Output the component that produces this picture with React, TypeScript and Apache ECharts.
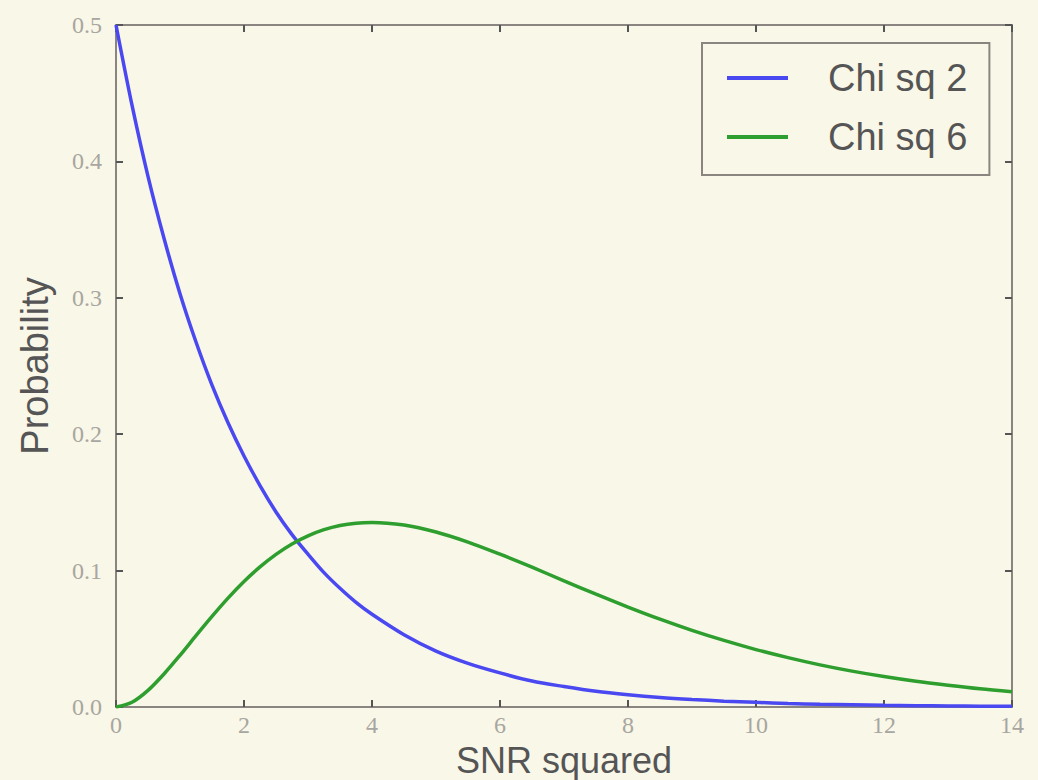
import React, { useEffect, useRef } from "react";
import * as echarts from "echarts";

const xValues = [0, 0.25, 0.5, 0.75, 1, 1.25, 1.5, 1.75, 2, 2.25, 2.5, 2.75, 3, 3.25, 3.5, 3.75, 4, 4.5, 5, 5.5, 6, 6.5, 7, 7.5, 8, 8.5, 9, 9.5, 10, 10.5, 11, 11.5, 12, 12.5, 13, 13.5, 14];
const chiSq2 = [0.5, 0.4412, 0.389, 0.3436, 0.303, 0.2676, 0.236, 0.2084, 0.184, 0.1623, 0.143, 0.1264, 0.112, 0.0985, 0.087, 0.0767, 0.068, 0.053, 0.041, 0.032, 0.025, 0.019, 0.015, 0.0115, 0.009, 0.007, 0.0055, 0.0043, 0.0034, 0.0026, 0.002, 0.0016, 0.0012, 0.001, 0.0008, 0.0006, 0.0005];
const chiSq6 = [0, 0.0035, 0.0122, 0.0242, 0.0379, 0.0523, 0.0664, 0.0798, 0.092, 0.1027, 0.1119, 0.1195, 0.1255, 0.13, 0.1331, 0.1348, 0.1353, 0.1334, 0.1283, 0.1209, 0.112, 0.1025, 0.0925, 0.0827, 0.0733, 0.0644, 0.0562, 0.0488, 0.0421, 0.0362, 0.0309, 0.0263, 0.0223, 0.0188, 0.0159, 0.0133, 0.0112];
const seriesNames = ["Chi sq 2", "Chi sq 6"];
const xTitle = "SNR squared";
const yTitle = "Probability";

export default function App() {
  const ref = useRef<HTMLDivElement>(null);
  useEffect(() => {
    if (!ref.current) return;
    const chart = echarts.init(ref.current, null, { renderer: "svg" });
    const tickLabel = () => ({ fontFamily: "Liberation Serif", fontSize: 24, color: "#a8a6a0" });
    const axisLine = () => ({ show: true, onZero: false, lineStyle: { color: "#8a8580", width: 2 } });
    const axisTick = () => ({ show: true, inside: true, length: 7, lineStyle: { color: "#555", width: 2 } });
    chart.setOption({
      animation: false,
      backgroundColor: "#f9f7e8",
      grid: { left: 116, top: 25, right: 26, bottom: 73, outerBoundsMode: "none", containLabel: false },
      legend: {
        orient: "vertical",
        left: 702,
        top: 43,
        backgroundColor: "#f9f7e8",
        borderColor: "#8a8580",
        borderWidth: 2,
        padding: [15, 22, 18, 25],
        itemGap: 19,
        itemWidth: 61,
        itemHeight: 4,
        icon: "rect",
        textStyle: { fontFamily: "Liberation Sans", fontSize: 38, color: "#555", lineHeight: 40, padding: [0, 0, 0, 35] },
        data: seriesNames,
      },
      xAxis: [
        {
          type: "value", min: 0, max: 14, interval: 2,
          axisLine: axisLine(), axisTick: axisTick(), splitLine: { show: false },
          axisLabel: { ...tickLabel(), margin: 6 },
          name: xTitle, nameLocation: "middle", nameGap: 28,
          nameTextStyle: { fontFamily: "Liberation Sans", fontSize: 36, color: "#555", lineHeight: 38 },
        },
        {
          type: "value", min: 0, max: 14, interval: 2, position: "top",
          axisLine: axisLine(), axisTick: axisTick(), splitLine: { show: false }, axisLabel: { show: false },
        },
      ],
      yAxis: [
        {
          type: "value", min: 0, max: 0.5, interval: 0.1,
          axisLine: axisLine(), axisTick: axisTick(), splitLine: { show: false },
          axisLabel: { ...tickLabel(), margin: 14, formatter: (v: number) => v.toFixed(1) },
          name: yTitle, nameLocation: "middle", nameGap: 62, nameRotate: 90,
          nameTextStyle: { fontFamily: "Liberation Sans", fontSize: 38, color: "#555" },
        },
        {
          type: "value", min: 0, max: 0.5, interval: 0.1, position: "right",
          axisLine: axisLine(), axisTick: axisTick(), splitLine: { show: false }, axisLabel: { show: false },
        },
      ],
      series: [
        {
          name: seriesNames[0], type: "line", smooth: 0.3, symbol: "none",
          lineStyle: { color: "#4a48f0", width: 3.5 }, itemStyle: { color: "#4a48f0" },
          data: xValues.map((x, i) => [x, chiSq2[i]]),
        },
        {
          name: seriesNames[1], type: "line", smooth: 0.3, symbol: "none",
          lineStyle: { color: "#2e9e2e", width: 3.5 }, itemStyle: { color: "#2e9e2e" },
          data: xValues.map((x, i) => [x, chiSq6[i]]),
        },
      ],
    });
    return () => chart.dispose();
  }, []);
  return <div ref={ref} style={{ position: "fixed", left: 0, top: 0, width: 1038, height: 780 }} />;
}
